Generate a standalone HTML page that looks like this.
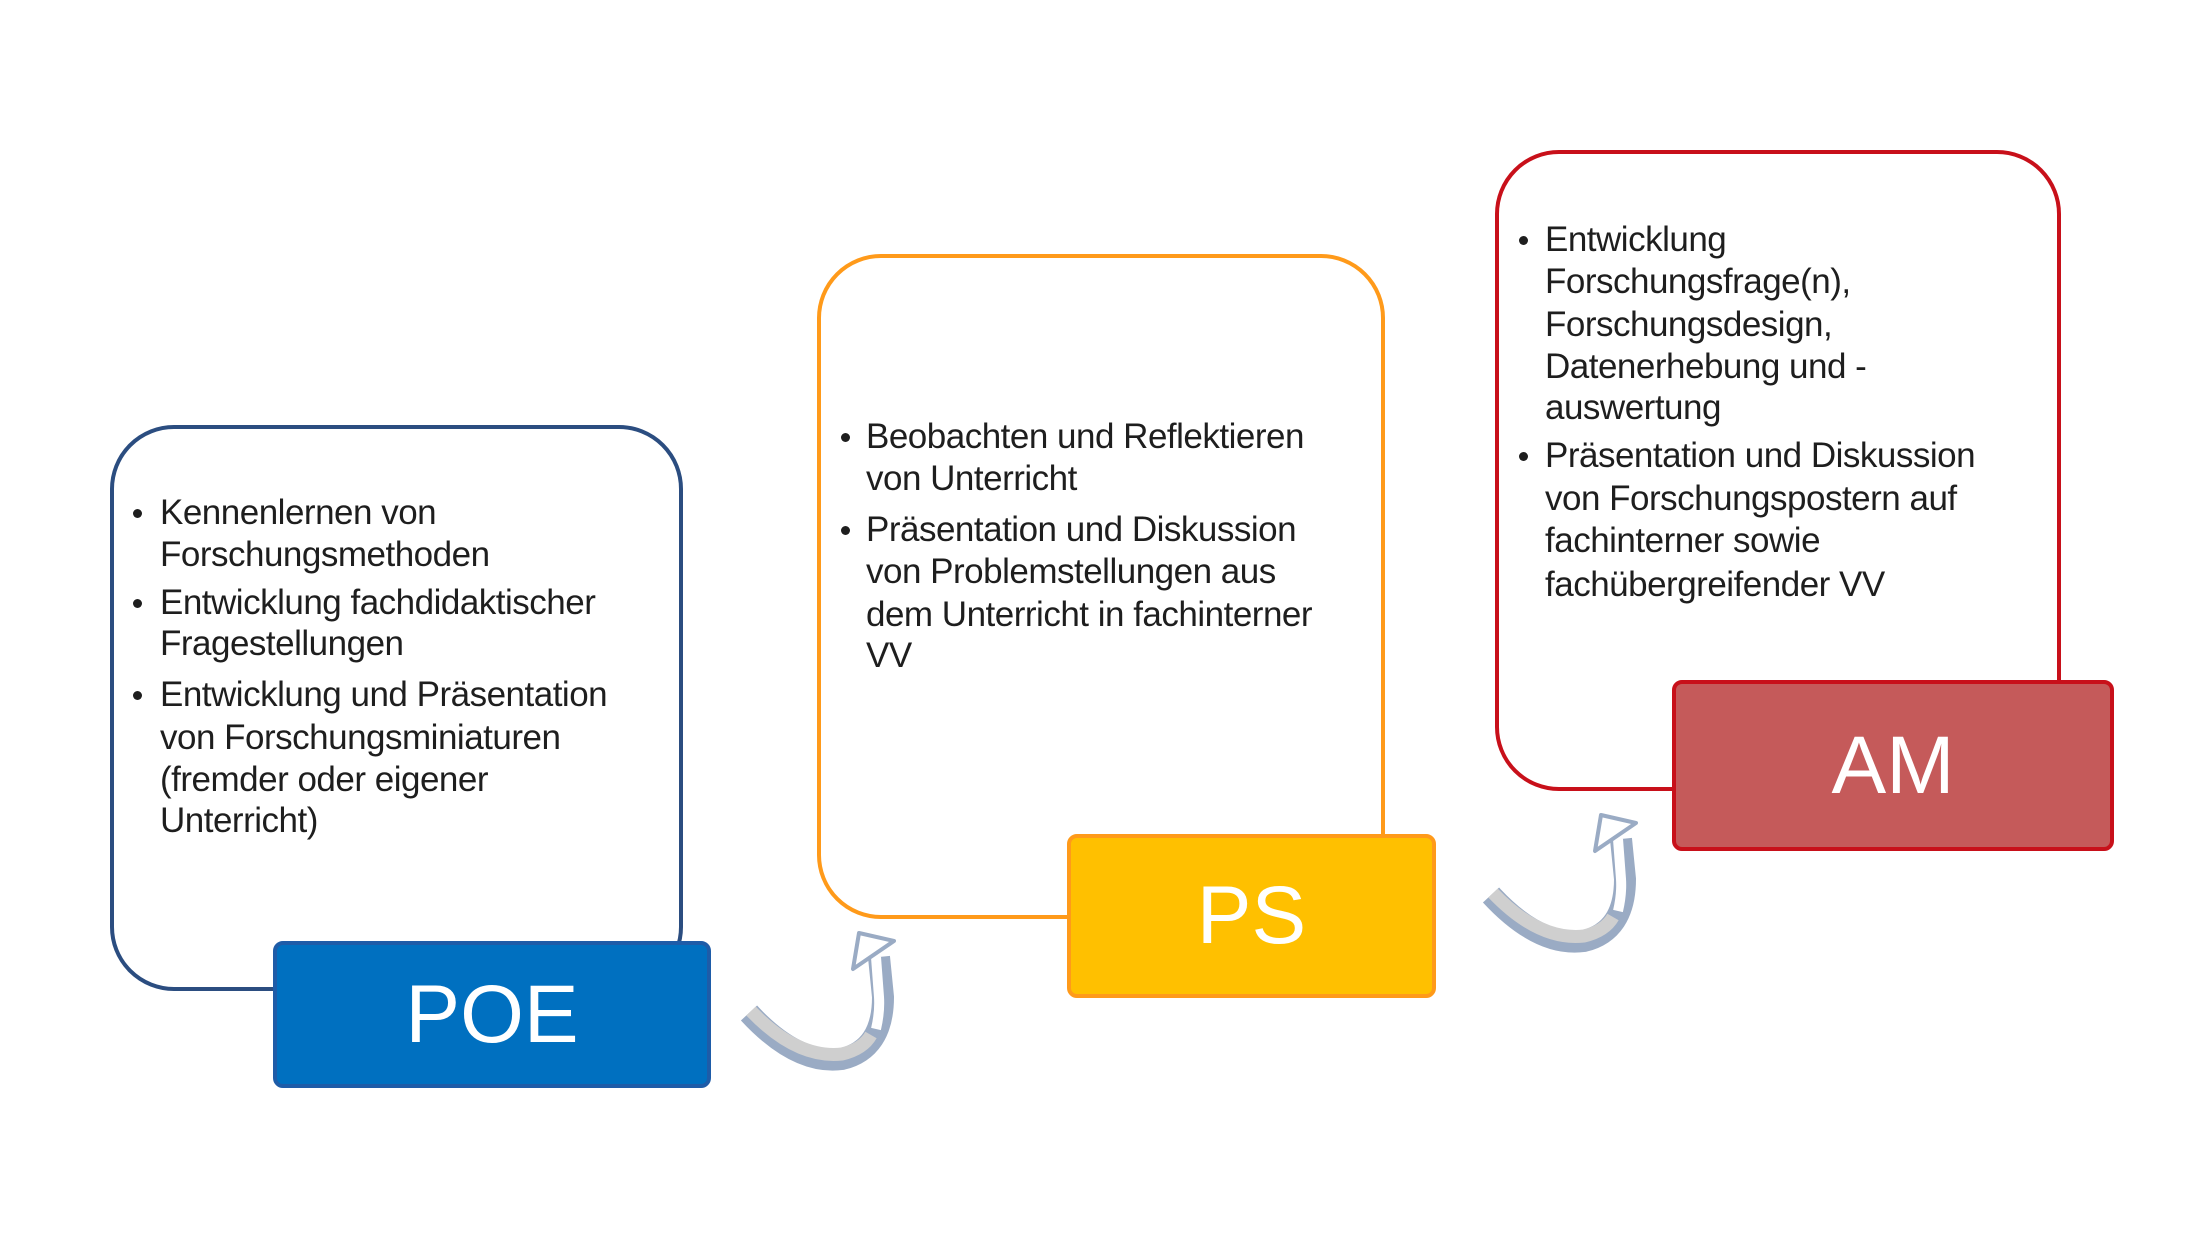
<!DOCTYPE html>
<html><head><meta charset="utf-8"><style>
html,body{margin:0;padding:0;background:#fff;}
#c{position:relative;width:2205px;height:1241px;overflow:hidden;font-family:"Liberation Sans",sans-serif;}
#w{position:absolute;left:-3px;top:-3px;width:2205px;height:1241px;}
.o{position:absolute;box-sizing:border-box;border-radius:64px;background:#fff;}
.l{position:absolute;box-sizing:border-box;border-radius:10px;color:#fff;display:flex;align-items:center;justify-content:center;font-size:82px;}
.t{position:absolute;font-size:35px;color:#1e1e1e;white-space:nowrap;line-height:38px;letter-spacing:-0.5px;}
.b{position:absolute;width:9px;height:9px;border-radius:50%;background:#1e1e1e;}
</style></head><body><div id="c"><div id="w">
<div class="o" style="left:113px;top:428px;width:573px;height:566px;border:4px solid #2b4d80;"></div>
<div class="o" style="left:820px;top:257px;width:568px;height:665px;border:4px solid #ff9a1a;"></div>
<div class="o" style="left:1498px;top:153px;width:566px;height:641px;border:4px solid #c8101a;"></div>

<div class="l" style="left:276px;top:944px;width:438px;height:147px;background:#0070c0;border:4px solid #1e5ca8;">POE</div>
<div class="l" style="left:1070px;top:837px;width:369px;height:164px;background:#ffc000;border:4px solid #ff9a1a;">PS</div>
<div class="l" style="left:1675px;top:683px;width:442px;height:171px;background:#c55a5a;border:4px solid #c8101a;">AM</div>

<!-- POE text -->
<div class="b" style="left:136px;top:512px"></div>
<div class="t" style="left:163px;top:497px">Kennenlernen von</div>
<div class="t" style="left:163px;top:539px">Forschungsmethoden</div>
<div class="b" style="left:136px;top:602px"></div>
<div class="t" style="left:163px;top:587px">Entwicklung fachdidaktischer</div>
<div class="t" style="left:163px;top:628px">Fragestellungen</div>
<div class="b" style="left:136px;top:694px"></div>
<div class="t" style="left:163px;top:679px">Entwicklung und Präsentation</div>
<div class="t" style="left:163px;top:722px">von Forschungsminiaturen</div>
<div class="t" style="left:163px;top:764px">(fremder oder eigener</div>
<div class="t" style="left:163px;top:805px">Unterricht)</div>

<!-- PS text -->
<div class="b" style="left:844px;top:436px"></div>
<div class="t" style="left:869px;top:421px">Beobachten und Reflektieren</div>
<div class="t" style="left:869px;top:463px">von Unterricht</div>
<div class="b" style="left:844px;top:529px"></div>
<div class="t" style="left:869px;top:514px">Präsentation und Diskussion</div>
<div class="t" style="left:869px;top:556px">von Problemstellungen aus</div>
<div class="t" style="left:869px;top:599px">dem Unterricht in fachinterner</div>
<div class="t" style="left:869px;top:640px">VV</div>

<!-- AM text -->
<div class="b" style="left:1522px;top:239px"></div>
<div class="t" style="left:1548px;top:224px">Entwicklung</div>
<div class="t" style="left:1548px;top:266px">Forschungsfrage(n),</div>
<div class="t" style="left:1548px;top:309px">Forschungsdesign,</div>
<div class="t" style="left:1548px;top:351px">Datenerhebung und -</div>
<div class="t" style="left:1548px;top:392px">auswertung</div>
<div class="b" style="left:1522px;top:455px"></div>
<div class="t" style="left:1548px;top:440px">Präsentation und Diskussion</div>
<div class="t" style="left:1548px;top:483px">von Forschungspostern auf</div>
<div class="t" style="left:1548px;top:525px">fachinterner sowie</div>
<div class="t" style="left:1548px;top:569px">fachübergreifender VV</div>

<svg width="2205" height="1241" style="position:absolute;left:0;top:0">
<defs>
<g id="arr">
<path d="M752,1016 Q800,1068 845,1062 Q886,1052 886,1000 L882,960" fill="none" stroke="#9aabc4" stroke-width="22" stroke-linecap="butt"/>
<path d="M754,1014 Q800,1062 845,1057 Q866,1052 874,1038" fill="none" stroke="#cfcfcf" stroke-width="13"/>
<path d="M879,1032 Q883,1015 882,1000 L879,960" fill="none" stroke="#fff" stroke-width="10"/>
<polygon points="862,936 897,944 856,972" fill="#fff" stroke="#9aabc4" stroke-width="4" stroke-linejoin="round"/>
</g>
</defs>
<use href="#arr"/>
<use href="#arr" transform="translate(742,-118)"/>
</svg>
</div></div></body></html>
